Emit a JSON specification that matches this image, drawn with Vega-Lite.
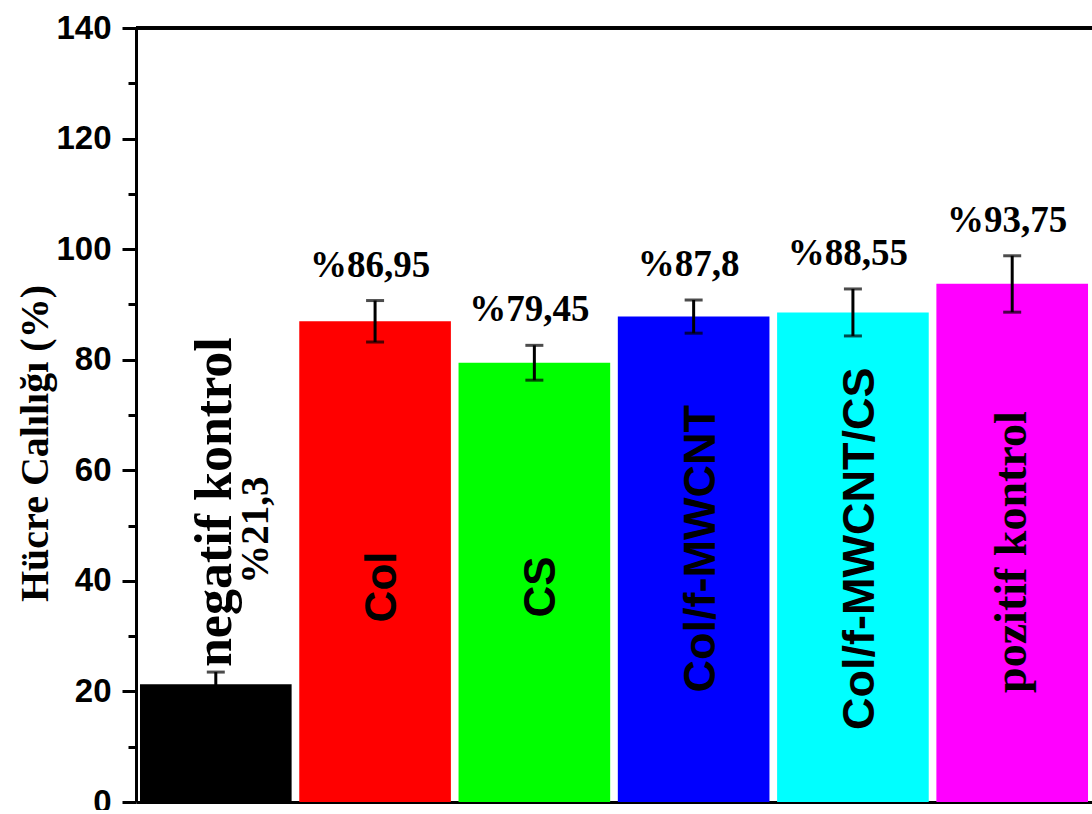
{
  "$schema": "https://vega.github.io/schema/vega-lite/v6.json",
  "autosize": "none",
  "padding": {"left": 136, "top": 28, "right": 0, "bottom": 8},
  "width": 956,
  "height": 774,
  "background": "white",
  "config": {"view": {"stroke": null}, "axis": {"grid": false}},
  "data": {"values": [
    {"grup": "negatif kontrol", "canlilik": 21.3, "alt": 19.1, "ust": 23.5, "etiket": "%21,3"},
    {"grup": "Col", "canlilik": 86.95, "alt": 83.2, "ust": 90.7, "etiket": "%86,95"},
    {"grup": "CS", "canlilik": 79.45, "alt": 76.3, "ust": 82.6, "etiket": "%79,45"},
    {"grup": "Col/f-MWCNT", "canlilik": 87.8, "alt": 84.8, "ust": 90.8, "etiket": "%87,8"},
    {"grup": "Col/f-MWCNT/CS", "canlilik": 88.55, "alt": 84.3, "ust": 92.8, "etiket": "%88,55"},
    {"grup": "pozitif kontrol", "canlilik": 93.75, "alt": 88.6, "ust": 98.8, "etiket": "%93,75"}
  ]},
  "encoding": {
    "x": {"field": "grup", "type": "nominal", "sort": null,
      "scale": {"paddingInner": 0.048, "paddingOuter": 0.025},
      "axis": {"labels": false, "ticks": false, "title": null, "domain": true, "domainWidth": 3, "domainColor": "black"}}
  },
  "layer": [
    {
      "mark": {"type": "bar"},
      "encoding": {
        "y": {"field": "canlilik", "type": "quantitative",
          "scale": {"domain": [0, 140], "nice": false},
          "axis": {"values": [0, 20, 40, 60, 80, 100, 120, 140], "labelFont": "Liberation Sans", "labelFontWeight": "bold", "labelFontSize": 33, "labelColor": "black", "labelPadding": 11,
            "tickSize": 14, "tickWidth": 3, "tickColor": "black", "domainWidth": 3, "domainColor": "black",
            "title": "Hücre Calılığı (%)", "titleFont": "Liberation Serif", "titleFontSize": 40, "titleFontWeight": "bold", "titleColor": "black",
            "titleAngle": 270, "titleAlign": "center", "titleBaseline": "alphabetic", "titleAnchor": null, "titleX": -89, "titleY": 415}},
        "color": {"field": "grup", "type": "nominal", "legend": null,
          "scale": {"domain": ["negatif kontrol", "Col", "CS", "Col/f-MWCNT", "Col/f-MWCNT/CS", "pozitif kontrol"],
            "range": ["#000000", "#ff0000", "#00ff00", "#0000ff", "#00ffff", "#ff00ff"]}}
      }
    },
    {
      "mark": {"type": "rule", "color": "black", "strokeWidth": 3},
      "encoding": {
        "x": {"value": 0},
        "x2": {"value": 956},
        "y": {"datum": 140, "type": "quantitative",
          "axis": {"orient": "left", "values": [10, 30, 50, 70, 90, 110, 130], "labels": false, "domain": false, "tickSize": 8, "tickWidth": 3, "tickColor": "black", "title": null}}
      }
    },
    {
      "mark": {"type": "rule", "color": "black", "strokeWidth": 3},
      "encoding": {
        "y": {"field": "alt", "type": "quantitative"},
        "y2": {"field": "ust"}
      }
    },
    {
      "mark": {"type": "tick", "color": "black", "size": 18, "thickness": 3},
      "encoding": {"y": {"field": "alt", "type": "quantitative"}}
    },
    {
      "mark": {"type": "tick", "color": "black", "size": 18, "thickness": 3},
      "encoding": {"y": {"field": "ust", "type": "quantitative"}}
    },
    {
      "transform": [{"filter": "datum.grup !== 'negatif kontrol'"}],
      "mark": {"type": "text", "font": "Liberation Serif", "fontWeight": "bold", "fontSize": 37, "color": "black", "align": "center", "baseline": "alphabetic", "dy": -24, "dx": -5},
      "encoding": {
        "y": {"field": "ust", "type": "quantitative"},
        "text": {"field": "etiket"}
      }
    },
    {
      "transform": [{"filter": "datum.grup === 'negatif kontrol'"}],
      "mark": {"type": "text", "font": "Liberation Serif", "fontWeight": "bold", "fontSize": 52, "color": "black", "angle": 270, "align": "left", "baseline": "alphabetic", "dx": 5, "dy": 15},
      "encoding": {
        "y": {"field": "ust", "type": "quantitative"},
        "text": {"field": "grup"}
      }
    },
    {
      "transform": [{"filter": "datum.grup === 'negatif kontrol'"}],
      "mark": {"type": "text", "font": "Liberation Serif", "fontWeight": "bold", "fontSize": 39, "color": "black", "angle": 270, "align": "center", "baseline": "alphabetic", "dx": 142, "dy": 52},
      "encoding": {
        "y": {"field": "ust", "type": "quantitative"},
        "text": {"field": "etiket"}
      }
    },
    {
      "transform": [{"filter": "datum.grup === 'Col' || datum.grup === 'CS'"}],
      "mark": {"type": "text", "font": "Liberation Sans", "fontWeight": "bold", "fontSize": 44, "color": "black", "angle": 270, "align": "center", "baseline": "alphabetic", "dy": 21},
      "encoding": {
        "y": {"datum": 38.9, "type": "quantitative"},
        "text": {"field": "grup"}
      }
    },
    {
      "transform": [{"filter": "datum.grup === 'Col/f-MWCNT' || datum.grup === 'Col/f-MWCNT/CS'"}],
      "mark": {"type": "text", "font": "Liberation Sans", "fontWeight": "bold", "fontSize": 45, "color": "black", "angle": 270, "align": "center", "baseline": "alphabetic", "dy": 21},
      "encoding": {
        "y": {"datum": 45.8, "type": "quantitative"},
        "text": {"field": "grup"}
      }
    },
    {
      "transform": [{"filter": "datum.grup === 'pozitif kontrol'"}],
      "mark": {"type": "text", "font": "Liberation Serif", "fontWeight": "bold", "fontSize": 46, "color": "black", "angle": 270, "align": "center", "baseline": "alphabetic", "dy": 14},
      "encoding": {
        "y": {"datum": 45.2, "type": "quantitative"},
        "text": {"field": "grup"}
      }
    }
  ],
  "resolve": {"axis": {"y": "independent"}}
}
